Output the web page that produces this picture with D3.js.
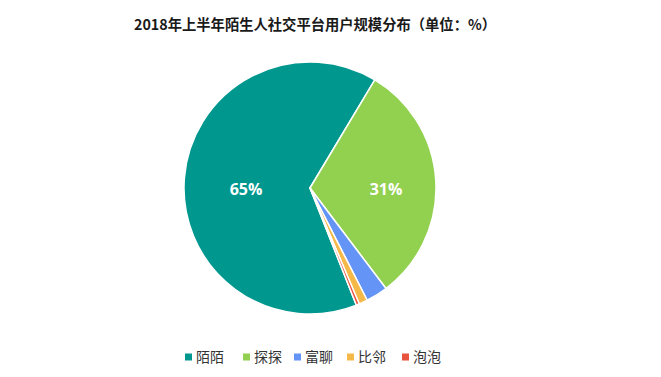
<!DOCTYPE html>
<html>
<head>
<meta charset="utf-8">
<script src="https://cdn.jsdelivr.net/npm/d3@7/dist/d3.min.js"></script>
<style>
  html, body { margin: 0; padding: 0; background: #fff; }
  svg { display: block; }
</style>
</head>
<body>
<svg id="chart" width="661" height="377"></svg>
<script>
const title = "2018年上半年陌生人社交平台用户规模分布（单位：%）";
const categories = ["陌陌", "探探", "富聊", "比邻", "泡泡"];
const values = [64.6, 31.1, 2.8, 1.1, 0.4];
const valueLabels = ["65%", "31%", "", "", ""];
const colors = ["#00978f", "#92d050", "#6494f5", "#f5b94a", "#e8533f"];

const svg = d3.select("#chart");
const cx = 310, cy = 188, R = 126;

svg.append("text")
  .attr("x", 315).attr("y", 30)
  .attr("text-anchor", "middle")
  .attr("font-family", "'Noto Sans CJK SC', sans-serif")
  .attr("font-weight", "bold")
  .attr("font-size", 14.3)
  .attr("fill", "#1a1a1a")
  .text(title);

const data = categories.map((c, i) => ({ name: c, value: values[i], label: valueLabels[i], color: colors[i] }));

const start = 158.4 * Math.PI / 180;
const pie = d3.pie().sort(null).value(d => d.value)
  .startAngle(start).endAngle(start + 2 * Math.PI);
const arcs = pie(data);
const arc = d3.arc().innerRadius(0).outerRadius(R);
const labelR = [64, 76];

const g = svg.append("g").attr("transform", `translate(${cx},${cy})`);
g.selectAll("path").data(arcs).join("path")
  .attr("d", arc)
  .attr("fill", d => d.data.color)
  .attr("stroke", "#fff")
  .attr("stroke-width", 1.5)
  .attr("stroke-linejoin", "round");

g.selectAll("text.lbl").data(arcs.filter(d => d.data.label)).join("text")
  .attr("class", "lbl")
  .attr("transform", (d, i) => {
    const mid = (d.startAngle + d.endAngle) / 2;
    return `translate(${labelR[i] * Math.sign(Math.sin(mid))},1)`;
  })
  .attr("text-anchor", "middle")
  .attr("dy", "0.36em")
  .attr("font-family", "'Open Sans', 'Noto Sans', sans-serif")
  .attr("font-weight", "bold")
  .attr("font-size", 16)
  .attr("fill", "#fff")
  .text(d => d.data.label);

// legend
const legendX = [185, 243, 294, 347, 402];
const lg = svg.append("g");
const items = lg.selectAll("g").data(data).join("g")
  .attr("transform", (d, i) => `translate(${legendX[i]},357)`);
items.append("rect")
  .attr("x", 0).attr("y", -3.5)
  .attr("width", 7).attr("height", 7)
  .attr("fill", d => d.color);
items.append("text")
  .attr("x", 11).attr("y", 0)
  .attr("dy", "0.36em")
  .attr("font-family", "'Noto Sans CJK SC', sans-serif")
  .attr("font-size", 14)
  .attr("fill", "#333")
  .text(d => d.name);
</script>
</body>
</html>
